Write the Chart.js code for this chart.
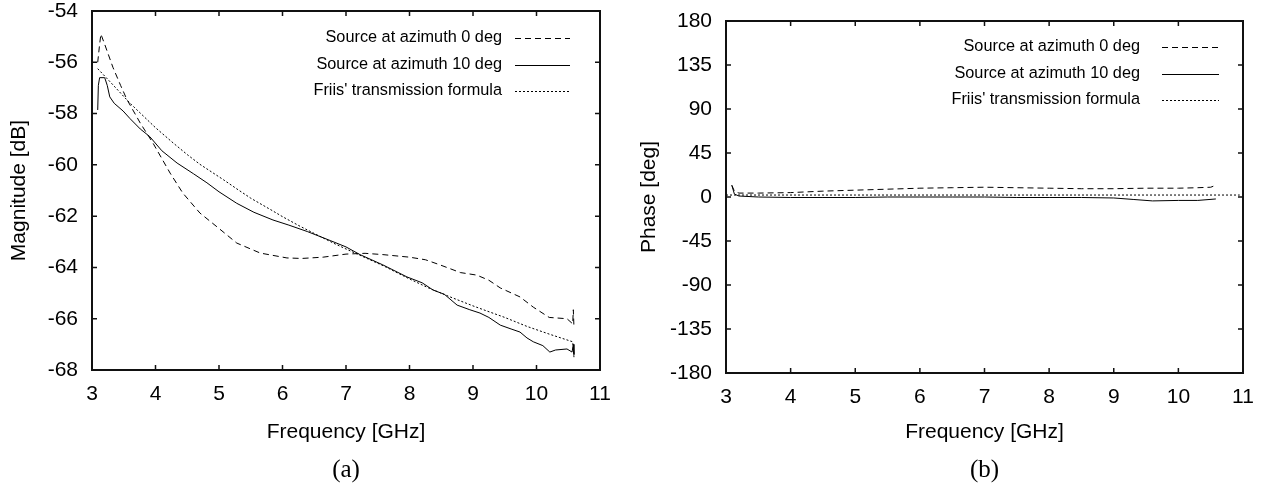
<!DOCTYPE html>
<html>
<head>
<meta charset="utf-8">
<script src="https://cdn.jsdelivr.net/npm/chart.js@4"></script>
<style>
body { margin: 0; background: #fff; width: 1261px; height: 487px; overflow: hidden; position: relative; }
canvas { position: absolute; top: 0; }
#magChart { left: 0; }
#phaseChart { left: 630px; }
</style>
</head>
<body>
<canvas id="magChart" width="630" height="487"></canvas>
<canvas id="phaseChart" width="631" height="487"></canvas>
<script>
const seriesNames = ['Source at azimuth 0 deg', 'Source at azimuth 10 deg', "Friis' transmission formula"];
const xTicks = [3, 4, 5, 6, 7, 8, 9, 10, 11];
const magTicks = [-68, -66, -64, -62, -60, -58, -56, -54];
const phaseTicks = [-180, -135, -90, -45, 0, 45, 90, 135, 180];

// (a) magnitude, dB
const magFreq0 = [3.09, 3.12, 3.14, 3.2, 3.33, 3.45, 3.55, 3.76, 3.96, 4.23, 4.43, 4.7, 4.97, 5.28, 5.65, 6.07, 6.3, 6.64, 7.0, 7.3, 7.58, 8.0, 8.25, 8.48, 8.8, 9.06, 9.25, 9.43, 9.74, 9.95, 10.2, 10.48, 10.57, 10.58, 10.59];
const magAz0 = [-56.0, -55.3, -54.9, -55.3, -56.2, -56.9, -57.45, -58.37, -59.15, -60.32, -61.1, -61.88, -62.42, -63.05, -63.44, -63.63, -63.65, -63.6, -63.48, -63.45, -63.5, -63.6, -63.7, -63.9, -64.2, -64.3, -64.5, -64.8, -65.15, -65.55, -65.95, -66.0, -66.2, -65.65, -66.35];

const magFreq10 = [3.09, 3.1, 3.12, 3.2, 3.24, 3.28, 3.35, 3.49, 3.6, 3.76, 3.91, 4.1, 4.34, 4.6, 4.81, 5.0, 5.28, 5.55, 5.85, 6.1, 6.39, 6.75, 7.0, 7.22, 7.58, 7.96, 8.2, 8.37, 8.55, 8.75, 8.95, 9.11, 9.25, 9.43, 9.6, 9.74, 9.85, 9.95, 10.1, 10.21, 10.3, 10.48, 10.56, 10.58, 10.59];
const magAz10 = [-57.86, -56.9, -56.6, -56.6, -56.9, -57.35, -57.6, -57.9, -58.2, -58.6, -58.9, -59.45, -59.93, -60.35, -60.7, -61.05, -61.5, -61.85, -62.15, -62.35, -62.6, -62.95, -63.2, -63.5, -63.9, -64.37, -64.6, -64.88, -65.05, -65.47, -65.65, -65.78, -65.95, -66.25, -66.4, -66.52, -66.75, -66.9, -67.05, -67.3, -67.22, -67.18, -67.3, -67.0, -67.4];

const magFreqFriis = [3.09, 3.3, 3.6, 4.0, 4.28, 4.5, 4.7, 5.07, 5.3, 5.5, 5.85, 6.0, 6.28, 6.64, 6.8, 7.0, 7.33, 7.6, 8.0, 8.3, 8.64, 9.0, 9.22, 9.5, 9.85, 10.2, 10.57, 10.59];
const magFriis = [-56.25, -56.8, -57.6, -58.55, -59.15, -59.6, -59.98, -60.58, -60.97, -61.3, -61.8, -62.02, -62.4, -62.85, -63.05, -63.28, -63.65, -63.95, -64.45, -64.8, -65.15, -65.5, -65.7, -65.95, -66.3, -66.6, -66.9, -67.5];

// (b) phase, deg
const phFreq0 = [3.09, 3.13, 3.2, 3.5, 4.0, 4.5, 5.0, 5.5, 6.0, 6.5, 7.0, 7.5, 8.0, 8.5, 9.0, 9.5, 10.0, 10.3, 10.5, 10.58];
const phAz0 = [12, 6, 4, 4, 4.5, 6, 7, 8, 9, 9.5, 10, 9.5, 9, 8.5, 8.5, 9, 9, 9.5, 10, 12];
const phFreq10 = [3.09, 3.13, 3.2, 3.5, 4.0, 4.5, 5.0, 5.5, 6.0, 6.5, 7.0, 7.5, 8.0, 8.5, 9.0, 9.3, 9.6, 10.0, 10.3, 10.58];
const phAz10 = [12, 3, 1, 0, -0.5, -0.5, -0.5, 0, 0, 0, 0, -0.5, -0.5, -0.5, -1, -2.5, -4, -3.5, -3.5, -2];
const phFreqFriis = [3.0, 5.0, 7.0, 9.0, 10.95];
const phFriis = [2, 2, 2, 2, 2];

const pts = (xs, ys) => xs.map((x, i) => ({x: x, y: ys[i]}));
const styles = [
    {borderDash: [6, 4]},
    {borderDash: []},
    {borderDash: [2, 2]}
];

const FONT = 'Liberation Sans, Arial, sans-serif';

function makeDatasets(sets) {
    return sets.map((d, i) => ({
        label: seriesNames[i],
        data: d,
        borderColor: '#000',
        borderWidth: 1,
        borderDash: styles[i].borderDash,
        pointRadius: 0,
        tension: 0
    }));
}

// box round the plot with inward ticks on all four sides
const framePlugin = {
    id: 'frame',
    afterDatasetsDraw(chart) {
        const {ctx, chartArea: a, scales: {x, y}} = chart;
        ctx.save();
        ctx.strokeStyle = '#111';
        ctx.lineWidth = 2;
        ctx.strokeRect(a.left, a.top, a.right - a.left, a.bottom - a.top);
        ctx.lineWidth = 1.5;
        ctx.beginPath();
        x.ticks.forEach(t => {
            const px = x.getPixelForValue(t.value);
            ctx.moveTo(px, a.bottom); ctx.lineTo(px, a.bottom - 5);
            ctx.moveTo(px, a.top); ctx.lineTo(px, a.top + 5);
        });
        y.ticks.forEach(t => {
            const py = y.getPixelForValue(t.value);
            ctx.moveTo(a.left, py); ctx.lineTo(a.left + 5, py);
            ctx.moveTo(a.right, py); ctx.lineTo(a.right - 5, py);
        });
        ctx.stroke();
        ctx.restore();
    }
};

// gnuplot-like key: text right aligned, line sample on its right
const keyPlugin = {
    id: 'key',
    afterDatasetsDraw(chart, args, opts) {
        const {ctx, chartArea: a} = chart;
        ctx.save();
        ctx.font = '16.3px ' + FONT;
        ctx.fillStyle = '#000';
        ctx.textAlign = 'right';
        ctx.textBaseline = 'middle';
        chart.data.datasets.forEach((ds, i) => {
            const yy = a.top + opts.rows[i];
            ctx.fillText(ds.label, a.right - opts.textRight, yy);
            ctx.beginPath();
            ctx.setLineDash(ds.borderDash);
            ctx.lineWidth = 1;
            ctx.strokeStyle = '#000';
            ctx.moveTo(a.right - opts.lineFrom, yy + 0.5);
            ctx.lineTo(a.right - opts.lineTo, yy + 0.5);
            ctx.stroke();
        });
        ctx.restore();
    }
};

function makeConfig(sets, yTicks, yTitle, caption, o) {
    return {
        type: 'line',
        data: {datasets: makeDatasets(sets)},
        options: {
            responsive: false,
            animation: false,
            layout: {padding: {left: 0, right: o.padRight, top: o.padTop, bottom: 0}},
            plugins: {
                legend: {display: false},
                tooltip: {enabled: false},
                title: {
                    display: true, position: 'bottom', text: caption, fullSize: false,
                    color: '#000',
                    font: {family: 'Liberation Serif, Times New Roman, serif', size: 25, weight: 'normal'},
                    padding: {top: 0, bottom: 2}
                },
                key: o.key
            },
            scales: {
                x: {
                    type: 'linear', min: 3, max: 11,
                    afterBuildTicks: s => { s.ticks = xTicks.map(v => ({value: v})); },
                    grid: {display: false, drawTicks: false},
                    border: {display: false},
                    ticks: {color: '#000', font: {family: FONT, size: 21}, padding: 12, maxRotation: 0},
                    title: {display: true, text: 'Frequency [GHz]', color: '#000', font: {family: FONT, size: 21}, padding: {top: 0, bottom: 10}},
                    afterFit: s => { s.height = o.xHeight; s.paddingLeft = 0; s.paddingRight = 0; }
                },
                y: {
                    min: yTicks[0], max: yTicks[yTicks.length - 1],
                    afterBuildTicks: s => { s.ticks = yTicks.map(v => ({value: v})); },
                    grid: {display: false, drawTicks: false},
                    border: {display: false},
                    ticks: {color: '#000', font: {family: FONT, size: 21}, padding: 14},
                    title: {display: true, text: yTitle, color: '#000', font: {family: FONT, size: 21}, padding: {top: 7, bottom: 0}},
                    afterFit: s => { s.width = o.yWidth; s.paddingTop = 0; s.paddingBottom = 0; }
                }
            }
        },
        plugins: [framePlugin, keyPlugin]
    };
}

const magChart = new Chart(document.getElementById('magChart'), makeConfig(
    [pts(magFreq0, magAz0), pts(magFreq10, magAz10), pts(magFreqFriis, magFriis)],
    magTicks, 'Magnitude [dB]', '(a)',
    {padRight: 30, padTop: 11, xHeight: 85, yWidth: 92,
     key: {rows: [27, 54, 80], textRight: 98, lineFrom: 85, lineTo: 30}}
));

const phaseChart = new Chart(document.getElementById('phaseChart'), makeConfig(
    [pts(phFreq0, phAz0), pts(phFreq10, phAz10), pts(phFreqFriis, phFriis)],
    phaseTicks, 'Phase [deg]', '(b)',
    {padRight: 18, padTop: 21, xHeight: 82, yWidth: 96,
     key: {rows: [26, 53, 79], textRight: 103, lineFrom: 81, lineTo: 24}}
));
</script>
</body>
</html>
